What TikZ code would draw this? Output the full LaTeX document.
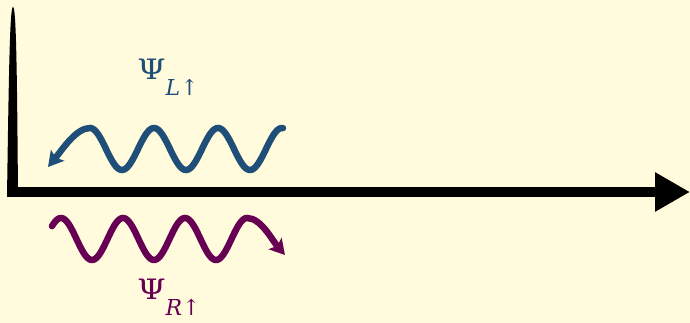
\documentclass[tikz,border=0pt]{standalone}
\usepackage{amsmath}
\usepackage{fontspec}
\usepackage{graphicx}
\usepackage{xcolor}
\usepackage{tikz}
\usetikzlibrary{
  arrows.meta,
  calc
}

\newfontfamily\psifont{DejaVu Serif}
\newcommand{\psiname}[1]{\scalebox{1.15}[1]{Ψ}\raisebox{-9pt}{\fontsize{12.5}{14}\selectfont\itshape #1\upshape↑}}
\definecolor{paper}{RGB}{255,251,220}
\definecolor{waveblue}{RGB}{31,78,121}
\definecolor{wavepurple}{RGB}{102,0,82}

\begin{document}
\begin{tikzpicture}[
  x=0.02cm,
  y=-0.02cm,
  axis/.style={
    line width=0.2cm,
    draw=black,
    -{Triangle[length=0.7cm, width=0.74cm]}
  },
  wave/.style={
    line width=0.13cm,
    line cap=round,
    -{Stealth[length=0.3cm, width=0.34cm, inset=0.06cm]}
  },
  psilabel/.style={
    font=\fontsize{16}{19}\psifont,
    inner sep=0pt,
    anchor=base west
  }
]

% Background & frame
\fill[paper] (0,0) rectangle (690,323);
\useasboundingbox (0,0) rectangle (690,323);

% Axes
\coordinate (origin) at (8,192);
\coordinate (xend) at (690,192);
\coordinate (ytop) at (13,7);
\fill[black] (7,197) .. controls (9,60) and (10,7) .. (ytop)
  .. controls (16,7) and (17,60) .. (18,197) -- cycle;
\draw[axis] (origin) -- (xend);

% Left-moving wave
\coordinate (tipL) at (48,167);
\draw[wave, waveblue] plot[domain=283:90, samples=120]
  (\x, {149+21*cos(5.625*(\x-250))})
  .. controls (76,128) and (62,150) .. (tipL);
\node[psilabel, text=waveblue] (psiL) at (137,80) {\psiname{L}};

% Right-moving wave
\coordinate (tipR) at (285,255);
\draw[wave, wavepurple] plot[domain=52:247, samples=120]
  (\x, {239+21*cos(5.806*(\x-92))})
  .. controls (261,218) and (272,240) .. (tipR);
\node[psilabel, text=wavepurple] (psiR) at (137,300) {\psiname{R}};

\end{tikzpicture}
\end{document}
